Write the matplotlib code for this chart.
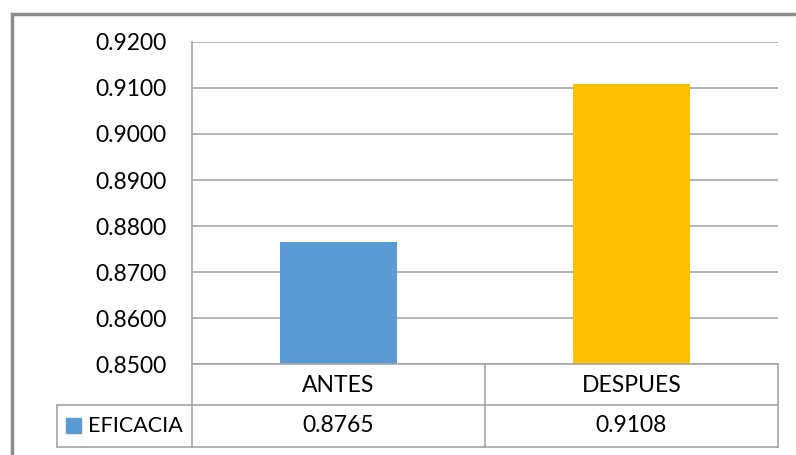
import matplotlib
matplotlib.use("Agg")
import matplotlib.pyplot as plt
from matplotlib.lines import Line2D
from matplotlib.patches import Rectangle

categories = ["ANTES", "DESPUES"]
series_name = "EFICACIA"
values = [0.8765, 0.9108]
bar_colors = ["#5B9BD5", "#FFC000"]
y_ticks = [0.85, 0.86, 0.87, 0.88, 0.89, 0.90, 0.91, 0.92]

W, H = 796, 455
plt.rcParams["font.family"] = ["Lato", "DejaVu Sans"]
FS = 16.5
GRID = "#A6A6A6"

fig = plt.figure(figsize=(W / 100, H / 100), dpi=100)


def fx(px):
    return px / W


def fy(py):
    return 1 - py / H


# plot area
x0, x1, ytop, ybot = 192, 778, 42, 364
ax = fig.add_axes([fx(x0), fy(ybot), fx(x1 - x0), fy(ytop) - fy(ybot)])
xs = range(len(categories))
ax.bar(xs, values, width=0.40, color=bar_colors, zorder=3)
ax.set_xlim(-0.5, len(categories) - 0.5)
ax.set_ylim(y_ticks[0], y_ticks[-1])
ax.set_yticks(y_ticks)
ax.set_yticklabels([f"{t:.4f}" for t in y_ticks], fontsize=FS, color="black")
ax.tick_params(axis="y", length=0, pad=18.5)
ax.set_xticks([])
ax.yaxis.grid(True, color=GRID, linewidth=1.2, zorder=0)
for s in ["top", "right", "bottom"]:
    ax.spines[s].set_visible(False)
ax.spines["left"].set_color(GRID)
ax.spines["left"].set_linewidth(1.2)


def hline(y, xa, xb, color=GRID, lw=1.2):
    fig.add_artist(Line2D([fx(xa), fx(xb)], [fy(y), fy(y)], color=color,
                          linewidth=lw, transform=fig.transFigure))


def vline(x, ya, yb, color=GRID, lw=1.2):
    fig.add_artist(Line2D([fx(x), fx(x)], [fy(ya), fy(yb)], color=color,
                          linewidth=lw, transform=fig.transFigure))


# data table below the plot
hline(364, 192, 778)
hline(405, 57, 778)
hline(447, 57, 778)
vline(57, 405, 447)
vline(192, 364, 447)
vline(485, 364, 447)
vline(778, 364, 447)

col_centers = [338.5, 631.5]
for c, cat, v in zip(col_centers, categories, values):
    fig.text(fx(c), fy(385), cat, ha="center", va="center", fontsize=FS)
    fig.text(fx(c), fy(426), f"{v:.4f}", ha="center", va="center", fontsize=FS)

fig.add_artist(Rectangle((fx(66), fy(433)), fx(15), fy(418) - fy(433),
                         color=bar_colors[0], transform=fig.transFigure))
fig.text(fx(88), fy(426), series_name, ha="left", va="center", fontsize=15.5)

# outer chart frame
fig.add_artist(Line2D([fx(11.5), fx(11.5), 1.0], [0.0, fy(13.5), fy(13.5)],
                      color="#8C8C8C", linewidth=2.5, transform=fig.transFigure,
                      solid_joinstyle="miter"))

fig.savefig("out.png", dpi=100)
